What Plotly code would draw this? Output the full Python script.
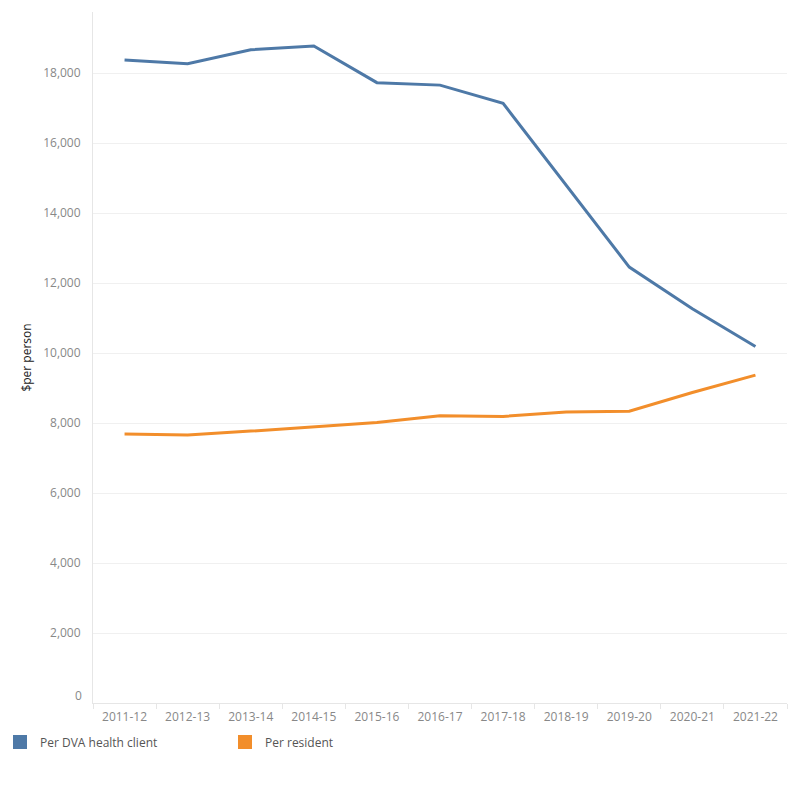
import plotly.graph_objects as go

years = ["2011-12", "2012-13", "2013-14", "2014-15", "2015-16", "2016-17",
         "2017-18", "2018-19", "2019-20", "2020-21", "2021-22"]
per_dva_client = [18380, 18270, 18670, 18780, 17730, 17660, 17140, 14800, 12460, 11270, 10190]
per_resident = [7686, 7657, 7771, 7886, 8017, 8209, 8190, 8320, 8337, 8874, 9371]

series_names = ["Per DVA health client", "Per resident"]
colors = ["#4e79a7", "#f28e2b"]
y_ticks = [0, 2000, 4000, 6000, 8000, 10000, 12000, 14000, 16000, 18000]
y_tick_text = ["" if v == 0 else f"{v:,}" for v in y_ticks]

FONT = "Open Sans"
fig = go.Figure()
for name, vals, col in zip(series_names, [per_dva_client, per_resident], colors):
    fig.add_trace(go.Scatter(x=years, y=vals, mode="lines", name=name,
                             line=dict(color=col, width=3), showlegend=False,
                             hoverinfo="x+y"))
    fig.add_trace(go.Scatter(x=[None], y=[None], mode="markers", name=name,
                             marker=dict(symbol="square", size=14, color=col),
                             showlegend=True))

# zero label drawn slightly raised, as in the reference
fig.add_annotation(x=0, xref="paper", y=y_ticks[0], yref="y", text=f"{y_ticks[0]:,}",
                   showarrow=False, xanchor="right", yanchor="middle",
                   xshift=-9, yshift=8, font=dict(family=FONT, size=12, color="#888888"))

fig.update_layout(
    width=800, height=800,
    margin=dict(l=93, r=13, t=12, b=97),
    paper_bgcolor="white", plot_bgcolor="white",
    font=dict(family=FONT, size=12, color="#888888"),
    xaxis=dict(type="category", categoryorder="array", categoryarray=years,
               range=[-0.5, len(years) - 0.5], automargin=False,
               showgrid=False, showline=True, linecolor="#e6e6e6", linewidth=1,
               ticks="outside", tickson="boundaries", ticklen=5, tickcolor="#e6e6e6",
               tickfont=dict(size=12, color="#888888"), ticklabelstandoff=3,
               zeroline=False, fixedrange=True),
    yaxis=dict(range=[0, 19750], tickvals=y_ticks, ticktext=y_tick_text, automargin=False,
               showgrid=True, gridcolor="#f0f0f0", gridwidth=1,
               showline=True, linecolor="#e6e6e6", linewidth=1,
               zeroline=False, ticks="", ticklabelstandoff=9,
               tickfont=dict(size=12, color="#888888"),
               title=dict(text="$per person", font=dict(size=12, color="#222222"), standoff=8)),
    legend=dict(orientation="h", xref="container", yref="container",
                x=0.0, y=0.0725, xanchor="left", yanchor="middle",
                entrywidth=180, entrywidthmode="pixels",
                font=dict(size=12, color="#555555"), itemwidth=30,
                bgcolor="rgba(0,0,0,0)"),
)

fig.write_html("out.html")
